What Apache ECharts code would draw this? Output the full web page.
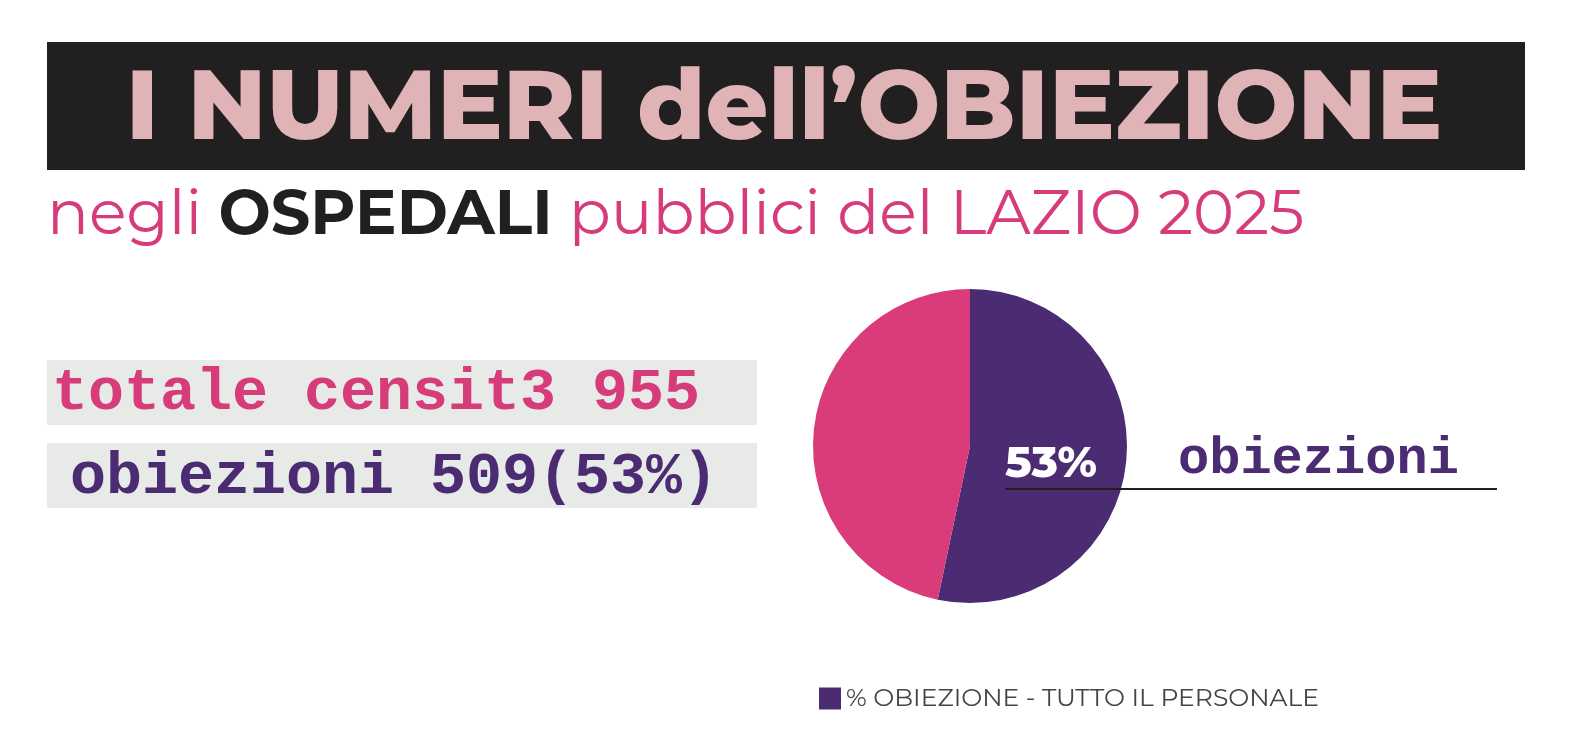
<!DOCTYPE html>
<html>
<head>
<meta charset="utf-8">
<title>Obiezione Lazio 2025</title>
<script src="https://cdn.jsdelivr.net/npm/echarts@6/dist/echarts.min.js"></script>
<style>
html,body{margin:0;padding:0;background:#fff;}
#main{width:1570px;height:750px;}
</style>
</head>
<body>
<div id="main"></div>
<script type="text/javascript">
var categories = ['% OBIEZIONE - TUTTO IL PERSONALE', 'non obiettori'];
var values = [509, 446];
var totale = 955;
var colors = ['#4b2b72', '#d93b7b'];

var chart = echarts.init(document.getElementById('main'));
var option = {
    backgroundColor: '#ffffff',
    animation: false,
    legend: {
        data: [categories[0]],
        left: 814, top: 681,
        icon: 'rect', itemWidth: 22, itemHeight: 22, itemGap: 14,
        textStyle: { fontFamily: 'Montserrat, Inter, sans-serif', fontSize: 25, color: '#444' }
    },
    graphic: [
        { type: 'rect', shape: { x: 47, y: 42, width: 1478, height: 128 }, style: { fill: '#221f20' } },
        { type: 'text', x: 784, y: 110, style: { text: 'I NUMERI dell\u2019OBIEZIONE', fill: '#e0b4b6',
            font: '800 98px Montserrat, Inter, sans-serif', textAlign: 'center', textVerticalAlign: 'middle' } },
        { type: 'text', x: 47, y: 216, style: { rich: {
            p: { fill: '#d63b7a', font: '400 62px Montserrat, Inter, sans-serif' },
            b: { fill: '#221f20', font: '700 62px Montserrat, Inter, sans-serif' } },
            text: '{p|negli }{b|OSPEDALI}{p| pubblici del LAZIO 2025}', textVerticalAlign: 'middle' } },
        { type: 'rect', shape: { x: 47, y: 360, width: 710, height: 65 }, style: { fill: '#e8eae8' } },
        { type: 'rect', shape: { x: 47, y: 443, width: 710, height: 65 }, style: { fill: '#e8eae8' } },
        { type: 'text', x: 52, y: 394, style: { text: 'totale censit3 ' + totale, fill: '#d63b7a',
            font: 'bold 60px "Liberation Mono", monospace', textVerticalAlign: 'middle' } },
        { type: 'text', x: 70, y: 478, style: { text: 'obiezioni ' + values[0] + '(53%)', fill: '#4b2b72',
            font: 'bold 60px "Liberation Mono", monospace', textVerticalAlign: 'middle' } },
        { type: 'line', shape: { x1: 1005, y1: 489, x2: 1497, y2: 489 }, style: { stroke: '#221f20', lineWidth: 2 }, z: 10 },
        { type: 'text', x: 1178, y: 460, style: { text: 'obiezioni', fill: '#4b2b72',
            font: 'bold 52px "Liberation Mono", monospace', textVerticalAlign: 'middle' } }
    ],
    series: [{
        type: 'pie',
        center: [970, 446],
        radius: [0, 157],
        startAngle: 90,
        data: [
            { name: categories[0], value: values[0], itemStyle: { color: colors[0] },
              label: { show: true, position: 'inside', formatter: '53%', color: '#fff',
                fontFamily: 'Montserrat, Inter, sans-serif', fontWeight: 800, fontSize: 44, offset: [0, 10] } },
            { name: categories[1], value: values[1], itemStyle: { color: colors[1] }, label: { show: false } }
        ],
        labelLine: { show: false }
    }]
};
chart.setOption(option);
</script>
</body>
</html>
